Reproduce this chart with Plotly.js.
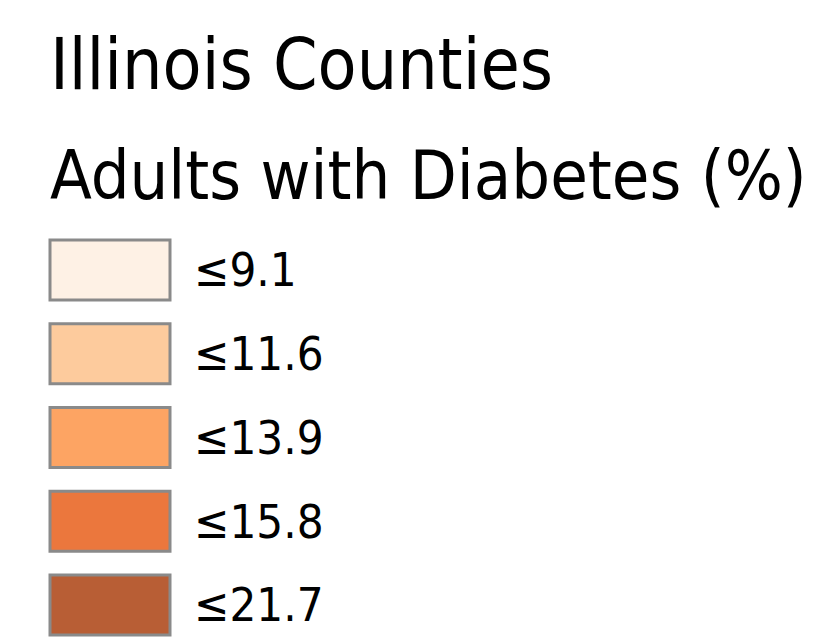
<!DOCTYPE html>
<html>
<head>
<meta charset="utf-8">
<script src="https://cdn.plot.ly/plotly-3.0.1.min.js"></script>
<style>html,body{margin:0;padding:0;background:#fff;}#chart{width:823px;height:644px;}</style>
</head>
<body>
<div id="chart"></div>
<script>
// Data
const title = "Illinois Counties";
const subtitle = "Adults with Diabetes (%)";
const classes = ["c1", "c2", "c3", "c4", "c5"];
const labels = ["≤9.1", "≤11.6", "≤13.9", "≤15.8", "≤21.7"];
const colors = ["#FEF1E5", "#FDCB9D", "#FDA463", "#EB773D", "#B85E35"];

const FONT = "'DejaVu Sans Condensed', 'DejaVu Sans', sans-serif";
const boxLeft = 50, boxWidth = 120;

const bars = {
  type: "bar",
  orientation: "h",
  y: classes,
  x: classes.map(() => boxWidth),
  base: boxLeft,
  width: 0.716,
  marker: { color: colors, line: { color: "#8a8a8a", width: 3 } },
  hoverinfo: "skip"
};

const labelAnnotations = classes.map((c, i) => ({
  text: labels[i], xref: "x", yref: "y", x: boxLeft + boxWidth + 22, y: c,
  xanchor: "left", yanchor: "middle", yshift: 0, showarrow: false,
  font: { family: FONT, size: 47, color: "#000" }
}));

const layout = {
  width: 823,
  height: 644,
  margin: { l: 0, r: 0, t: 0, b: 0 },
  paper_bgcolor: "#fff",
  plot_bgcolor: "#fff",
  showlegend: false,
  hovermode: false,
  xaxis: { range: [0, 823], visible: false, fixedrange: true },
  yaxis: { type: "category", range: [4.466, -3.224], visible: false, fixedrange: true },
  annotations: [
    { text: title, xref: "paper", yref: "paper", x: 48 / 823, y: 1 - 108 / 644,
      xanchor: "left", yanchor: "bottom", showarrow: false,
      font: { family: FONT, size: 71, color: "#000" } },
    { text: subtitle, xref: "paper", yref: "paper", x: 48 / 823, y: 1 - 217 / 644,
      xanchor: "left", yanchor: "bottom", showarrow: false,
      font: { family: FONT, size: 68, color: "#000" } }
  ].concat(labelAnnotations)
};

Plotly.newPlot("chart", [bars], layout, { staticPlot: true, displayModeBar: false });
</script>
</body>
</html>
